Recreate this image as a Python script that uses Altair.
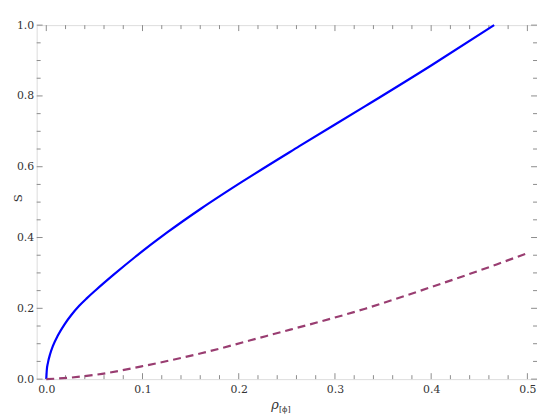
import altair as alt
import pandas as pd

# Blue solid curve
blue_rho = [0, 0.0005, 0.0017, 0.0040, 0.0068, 0.0120, 0.0188, 0.0260, 0.0342, 0.0420, 0.0513,
            0.0700, 0.0923, 0.126, 0.161, 0.202, 0.263, 0.3315, 0.400, 0.4655]
blue_s = [0, 0.025, 0.046, 0.071, 0.093, 0.123, 0.154, 0.181, 0.207, 0.228, 0.251,
          0.295, 0.345, 0.415, 0.482, 0.555, 0.658, 0.771, 0.886, 1.0]

# Purple dashed curve
purple_rho = [0, 0.024, 0.058, 0.099, 0.161, 0.229, 0.3315, 0.400, 0.468, 0.5]
purple_s = [0, 0.004, 0.015, 0.036, 0.073, 0.122, 0.199, 0.260, 0.324, 0.356]

# Frame ticks
x_major = [0.0, 0.1, 0.2, 0.3, 0.4, 0.5]
x_minor = [round(0.02 * i, 2) for i in range(26) if i % 5 != 0]
y_major = [0.0, 0.2, 0.4, 0.6, 0.8, 1.0]
y_minor = [round(0.05 * i, 2) for i in range(21) if i % 4 != 0]

W, H = 506, 358
FONT = "DejaVu Serif"
FRAME = "#8c8c8c"

xs = alt.Scale(domain=[-0.01, 0.51], nice=False, zero=False)
ys = alt.Scale(domain=[0, 1], nice=False, zero=False)

blue_df = pd.DataFrame({"rho": blue_rho, "S": blue_s})
purple_df = pd.DataFrame({"rho": purple_rho, "S": purple_s})

xaxis = alt.Axis(values=x_major, format=".1f", ticks=False, domain=False, grid=False,
                 labelFont=FONT, labelFontSize=11, labelColor="#333", labelPadding=5,
                 title=None)
yaxis = alt.Axis(values=y_major, format=".1f", ticks=False, domain=False, grid=False,
                 labelFont=FONT, labelFontSize=11, labelColor="#333", labelPadding=3,
                 title=None)

blue = alt.Chart(blue_df).mark_line(color="#0000ff", strokeWidth=2.2, interpolate="monotone").encode(
    x=alt.X("rho:Q", scale=xs, axis=xaxis),
    y=alt.Y("S:Q", scale=ys, axis=yaxis),
)
purple = alt.Chart(purple_df).mark_line(color="#993d71", strokeWidth=2.2, strokeDash=[8, 5],
                                        interpolate="monotone").encode(
    x=alt.X("rho:Q", scale=xs),
    y=alt.Y("S:Q", scale=ys),
)

def xticks(vals, length):
    df = pd.DataFrame({"t": vals})
    bot = alt.Chart(df).mark_rule(color=FRAME, strokeWidth=1).encode(
        x=alt.X("t:Q", scale=xs), y=alt.value(H), y2=alt.value(H - length))
    top = alt.Chart(df).mark_rule(color=FRAME, strokeWidth=1).encode(
        x=alt.X("t:Q", scale=xs), y=alt.value(0), y2=alt.value(length))
    return [bot, top]

def yticks(vals, length):
    df = pd.DataFrame({"t": vals})
    left = alt.Chart(df).mark_rule(color=FRAME, strokeWidth=1).encode(
        y=alt.Y("t:Q", scale=ys), x=alt.value(0), x2=alt.value(length))
    right = alt.Chart(df).mark_rule(color=FRAME, strokeWidth=1).encode(
        y=alt.Y("t:Q", scale=ys), x=alt.value(W), x2=alt.value(W - length))
    return [left, right]

title_df = pd.DataFrame({"a": [0]})
xtitle = alt.Chart(title_df).mark_text(text="ρ", font=FONT, fontSize=13, fontStyle="italic",
                                       color="#333", align="right", baseline="alphabetic").encode(
    x=alt.value(W / 2 - 8), y=alt.value(H + 30))
xsub = alt.Chart(title_df).mark_text(text="[ϕ]", font=FONT, fontSize=8,
                                     color="#333", align="left", baseline="alphabetic").encode(
    x=alt.value(W / 2 - 8), y=alt.value(H + 33))
ytitle = alt.Chart(title_df).mark_text(text="S", font=FONT, fontSize=12, angle=270,
                                       color="#333", align="center", baseline="middle").encode(
    x=alt.value(-19), y=alt.value(H / 2 - 4))

layers = xticks(x_major, 6) + xticks(x_minor, 4) + yticks(y_major, 6) + yticks(y_minor, 4)
chart = alt.layer(*layers, blue, purple, xtitle, xsub, ytitle).properties(
    width=W, height=H,
    autosize=alt.AutoSizeParams(type="none"),
    padding={"left": 29, "top": 15, "right": 0, "bottom": 37},
).configure_view(stroke=FRAME, strokeWidth=1).configure(background="white")

chart.save("out.html", embed_options={"renderer": "svg", "actions": False})
